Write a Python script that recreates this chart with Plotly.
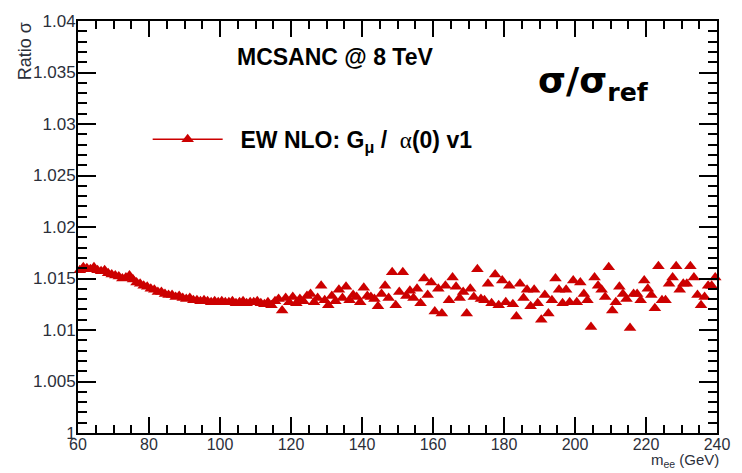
import plotly.graph_objects as go

# Invariant mass bin centres (GeV) and the EW NLO cross-section ratio per bin
mass = [60.5 + i for i in range(180)]
ratio = [
    1.0158, 1.0161, 1.0160, 1.0159, 1.0161, 1.0158, 1.0157, 1.0158, 1.0155, 1.0154,
    1.0153, 1.0152, 1.0150, 1.0151, 1.0153, 1.0149, 1.0146, 1.0145, 1.0143, 1.0142,
    1.0140, 1.0139, 1.0137, 1.0137, 1.0135, 1.0134, 1.0134, 1.0132, 1.0133, 1.0131,
    1.0130, 1.0131, 1.0129, 1.0129, 1.0128, 1.0129, 1.0128, 1.0127, 1.0128, 1.0127,
    1.0128, 1.0127, 1.0127, 1.0128, 1.0126, 1.0127, 1.0128, 1.0126, 1.0127, 1.0127,
    1.0128, 1.0126, 1.0125, 1.0127, 1.0124, 1.0128, 1.0130, 1.0119, 1.0131, 1.0127,
    1.0132, 1.0126, 1.0130, 1.0128, 1.0133, 1.0135, 1.0127, 1.0131, 1.0143, 1.0129,
    1.0124, 1.0133, 1.0128, 1.0139, 1.0131, 1.0142, 1.0129, 1.0134, 1.0132, 1.0127,
    1.0141, 1.0133, 1.0132, 1.0130, 1.0123, 1.0135, 1.0143, 1.0131, 1.0156, 1.0124,
    1.0137, 1.0156, 1.0133, 1.0138, 1.0131, 1.0140, 1.0126, 1.0150, 1.0134, 1.0146,
    1.0118, 1.0140, 1.0116, 1.0143, 1.0129, 1.0151, 1.0142, 1.0131, 1.0137, 1.0116,
    1.0140, 1.0132, 1.0159, 1.0130, 1.0129, 1.0145, 1.0126, 1.0154, 1.0124, 1.0148,
    1.0127, 1.0143, 1.0125, 1.0113, 1.0145, 1.0131, 1.0139, 1.0123, 1.0139, 1.0126,
    1.0110, 1.0134, 1.0116, 1.0129, 1.0150, 1.0139, 1.0126, 1.0139, 1.0127, 1.0148,
    1.0127, 1.0146, 1.0135, 1.0129, 1.0103, 1.0151, 1.0143, 1.0139, 1.0132, 1.0161,
    1.0119, 1.0127, 1.0142, 1.0135, 1.0130, 1.0102, 1.0135, 1.0135, 1.0129, 1.0148,
    1.0140, 1.0134, 1.0121, 1.0162, 1.0129, 1.0129, 1.0145, 1.0151, 1.0162, 1.0139,
    1.0145, 1.0145, 1.0162, 1.0151, 1.0134, 1.0124, 1.0132, 1.0143, 1.0143, 1.0151,
]

x_ticks = [60, 80, 100, 120, 140, 160, 180, 200, 220, 240]
y_ticks = [1.0, 1.005, 1.01, 1.015, 1.02, 1.025, 1.03, 1.035, 1.04]
y_tick_text = ["1", "1.005", "1.01", "1.015", "1.02", "1.025", "1.03", "1.035", "1.04"]

RED = "#cc0000"
FONT = "Liberation Sans, Arial, sans-serif"
LABEL_GREY = "#2b2f3a"

fig = go.Figure()
fig.add_trace(go.Scatter(
    x=mass, y=ratio, mode="markers",
    marker=dict(symbol="triangle-up", size=11, color=RED, line=dict(width=0)),
    cliponaxis=False, showlegend=False,
))
# legend entry drawn with line + marker
fig.add_trace(go.Scatter(
    x=[None], y=[None], mode="lines+markers",
    line=dict(color=RED, width=1.5),
    marker=dict(symbol="triangle-up", size=11, color=RED),
    name="<b>  EW NLO: G<sub>μ</sub> /  </b><span style='font-family:Liberation Serif,Times New Roman,serif'>α</span><b>(0) v1</b>",
))

axis_common = dict(
    showline=True, linecolor="black", linewidth=2, mirror="allticks",
    ticks="inside", tickcolor="black", tickwidth=1.5,
    showgrid=False, zeroline=False,
)

fig.update_xaxes(
    range=[60, 240], tickvals=x_ticks, ticklen=16, ticklabelstandoff=-4,
    tickfont=dict(family=FONT, size=16, color=LABEL_GREY),
    minor=dict(ticks="inside", ticklen=8, dtick=5, tick0=60, tickcolor="black", tickwidth=1.5, showgrid=False),
    **axis_common,
)
fig.update_yaxes(
    range=[1.0, 1.04], tickvals=y_ticks, ticktext=y_tick_text, ticklen=18, ticklabelstandoff=-3,
    tickfont=dict(family=FONT, size=17, color=LABEL_GREY),
    minor=dict(ticks="inside", ticklen=9, dtick=0.001, tick0=1.0, tickcolor="black", tickwidth=1.5, showgrid=False),
    **axis_common,
)

# page geometry in pixels, used to place the free-standing texts
W, H = 742, 473
L, R, T, B = 78, 22, 15, 40
pw, ph = W - L - R, H - T - B


def px(xp):
    return (xp - L) / pw


def py(yp):
    return (H - B - yp) / ph


fig.update_layout(
    width=W, height=H,
    margin=dict(l=L, r=R, t=T, b=B),
    paper_bgcolor="white", plot_bgcolor="white",
    font=dict(family=FONT, color="black"),
    legend=dict(
        x=px(148), y=py(135), xanchor="left", yanchor="middle",
        bgcolor="rgba(0,0,0,0)", itemwidth=70,
        font=dict(family=FONT, size=23, color="black"),
    ),
    annotations=[
        dict(text="<b>MCSANC @ 8 TeV</b>", x=px(336), y=py(52), xref="paper", yref="paper",
             xanchor="center", yanchor="middle",
             showarrow=False, font=dict(family=FONT, size=23, color="black")),
        dict(text="<b>σ/σ<sub>ref</sub></b>", x=px(538), y=py(78), xref="paper", yref="paper",
             xanchor="left", yanchor="middle",
             showarrow=False, font=dict(family="DejaVu Sans, sans-serif", size=36, color="black")),
        dict(text="Ratio σ", x=px(25), y=py(14), xref="paper", yref="paper", textangle=-90,
             xanchor="center", yanchor="top",
             showarrow=False, font=dict(family=FONT, size=18, color=LABEL_GREY)),
        dict(text="m<sub>ee</sub> (GeV)", x=px(724), y=py(473), xref="paper", yref="paper",
             xanchor="right", yanchor="bottom",
             showarrow=False, font=dict(family=FONT, size=15, color=LABEL_GREY)),
    ],
)

fig.write_html("out.html")
